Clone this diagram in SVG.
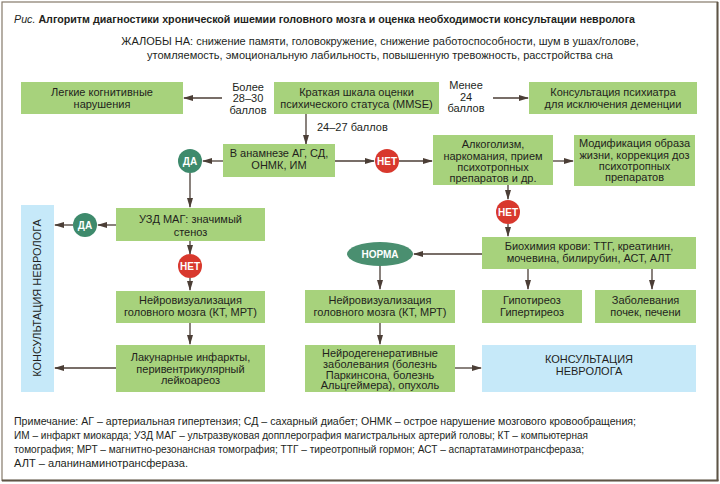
<svg xmlns="http://www.w3.org/2000/svg" width="720" height="484" viewBox="0 0 720 484">
<style>
text{font-family:"Liberation Sans",Arial,sans-serif;fill:#231f1c}
.t{font-size:11px;text-anchor:middle}
.g{fill:#a7d27c}
.b{fill:#c6e9f9}
.w{fill:#fff;font-weight:bold;font-size:10px;text-anchor:middle}
.c line,.c path{stroke:#4b3e36;stroke-width:1.3;fill:none}
.n{font-size:10.6px}
</style>
<defs>
<marker id="a" markerWidth="10" markerHeight="8" refX="9" refY="4" orient="auto" markerUnits="userSpaceOnUse">
<path d="M0,1 L10,4 L0,7 Z" fill="#4b3e36"/>
</marker>
</defs>
<rect x="0" y="0" width="720" height="484" fill="#fff"/>
<rect x="2" y="2" width="715.5" height="478.5" fill="none" stroke="#857a6a" stroke-width="1.2"/>
<line x1="717.5" y1="2" x2="717.5" y2="481" stroke="#5e5446" stroke-width="2"/>
<line x1="2" y1="480.5" x2="718.5" y2="480.5" stroke="#5e5446" stroke-width="2"/>

<text x="14" y="23" font-size="10.7px"><tspan font-style="italic">Рис.</tspan> <tspan font-weight="bold">Алгоритм диагностики хронической ишемии головного мозга и оценка необходимости консультации невролога</tspan></text>
<text class="t" x="380" y="45" font-size="10.6px">ЖАЛОБЫ НА: снижение памяти, головокружение, снижение работоспособности, шум в ушах/голове,</text>
<text class="t" x="380" y="59" font-size="10.6px">утомляемость, эмоциональную лабильность, повышенную тревожность, расстройства сна</text>

<g class="c" id="connectors">
<line x1="222" y1="98" x2="184" y2="98" marker-end="url(#a)"/>
<line x1="493" y1="98" x2="528" y2="98" marker-end="url(#a)"/>
<line x1="306" y1="114" x2="306" y2="144" marker-end="url(#a)"/>
<line x1="223" y1="161" x2="203" y2="161" marker-end="url(#a)"/>
<line x1="190" y1="173" x2="190" y2="207" marker-end="url(#a)"/>
<line x1="116" y1="225" x2="98" y2="225" marker-end="url(#a)"/>
<line x1="73" y1="225" x2="55" y2="225" marker-end="url(#a)"/>
<line x1="190" y1="241" x2="190" y2="254" marker-end="url(#a)"/>
<line x1="190" y1="278" x2="190" y2="290" marker-end="url(#a)"/>
<line x1="190" y1="323" x2="190" y2="344" marker-end="url(#a)"/>
<line x1="116" y1="368" x2="55" y2="368" marker-end="url(#a)"/>
<line x1="335" y1="161" x2="374" y2="161" marker-end="url(#a)"/>
<line x1="399" y1="161" x2="432" y2="161" marker-end="url(#a)"/>
<line x1="553" y1="161" x2="573" y2="161" marker-end="url(#a)"/>
<line x1="508" y1="185" x2="508" y2="199" marker-end="url(#a)"/>
<line x1="508" y1="224" x2="508" y2="236" marker-end="url(#a)"/>
<line x1="482" y1="254" x2="414" y2="254" marker-end="url(#a)"/>
<line x1="380" y1="266" x2="380" y2="289" marker-end="url(#a)"/>
<line x1="528" y1="269" x2="528" y2="289" marker-end="url(#a)"/>
<line x1="652" y1="269" x2="652" y2="289" marker-end="url(#a)"/>
<line x1="380" y1="323" x2="380" y2="344" marker-end="url(#a)"/>
<line x1="455" y1="368" x2="481" y2="368" marker-end="url(#a)"/>
</g>

<g id="lbl-more">
<text class="t" x="248" y="90.5">Более</text>
<text class="t" x="248" y="102">28–30</text>
<text class="t" x="248" y="113.5">баллов</text>
</g>
<g id="lbl-less">
<text class="t" x="466" y="89">Менее</text>
<text class="t" x="466" y="100.5">24</text>
<text class="t" x="466" y="112">баллов</text>
</g>
<g id="lbl-2427"><text x="317" y="131" font-size="11px">24–27 баллов</text></g>

<g id="mild">
<rect class="g" x="21" y="82" width="162" height="32"/>
<text class="t" x="102" y="96">Легкие когнитивные</text>
<text class="t" x="102" y="108">нарушения</text>
</g>
<g id="mmse">
<rect class="g" x="274" y="82" width="165" height="32"/>
<text class="t" x="356.5" y="96">Краткая шкала оценки</text>
<text class="t" x="356.5" y="108">психического статуса (MMSE)</text>
</g>
<g id="psych">
<rect class="g" x="529" y="82" width="168" height="32"/>
<text class="t" x="613" y="96">Консультация психиатра</text>
<text class="t" x="613" y="108">для исключения деменции</text>
</g>
<g id="anamnesis">
<rect class="g" x="223" y="144" width="112" height="33"/>
<text class="t" x="279" y="157">В анамнезе АГ, СД,</text>
<text class="t" x="279" y="169">ОНМК, ИМ</text>
</g>
<g id="yes1"><circle cx="190" cy="161" r="12" fill="#3e8a6c"/><text class="w" x="190" y="164.5">ДА</text></g>
<g id="no1"><circle cx="387" cy="161" r="12" fill="#d8382d"/><text class="w" x="387" y="164.5">НЕТ</text></g>
<g id="alcohol">
<rect class="g" x="433" y="135" width="120" height="50"/>
<text class="t" x="493" y="148">Алкоголизм,</text>
<text class="t" x="493" y="159.5">наркомания, прием</text>
<text class="t" x="493" y="171">психотропных</text>
<text class="t" x="493" y="182">препаратов и др.</text>
</g>
<g id="lifestyle">
<rect class="g" x="574" y="135" width="121" height="51"/>
<text class="t" x="634.5" y="147">Модификация образа</text>
<text class="t" x="634.5" y="158.5">жизни, коррекция доз</text>
<text class="t" x="634.5" y="170">психотропных</text>
<text class="t" x="634.5" y="181">препаратов</text>
</g>
<g id="no2"><circle cx="508" cy="212" r="12" fill="#d8382d"/><text class="w" x="508" y="215.5">НЕТ</text></g>
<g id="uzd">
<rect class="g" x="116" y="208" width="149" height="33"/>
<text class="t" x="190.5" y="223">УЗД МАГ: значимый</text>
<text class="t" x="190.5" y="236">стеноз</text>
</g>
<g id="yes2"><circle cx="85" cy="225" r="12" fill="#3e8a6c"/><text class="w" x="85" y="228.5">ДА</text></g>
<g id="neuro-vert">
<rect class="b" x="21" y="205" width="33" height="187"/>
<text class="t" transform="translate(41,298) rotate(-90)" x="0" y="0">КОНСУЛЬТАЦИЯ НЕВРОЛОГА</text>
</g>
<g id="no3"><circle cx="190" cy="266" r="12" fill="#d8382d"/><text class="w" x="190" y="269.5">НЕТ</text></g>
<g id="biochem">
<rect class="g" x="482" y="237" width="214" height="32"/>
<text class="t" x="589" y="250">Биохимия крови: ТТГ, креатинин,</text>
<text class="t" x="589" y="261.5">мочевина, билирубин, АСТ, АЛТ</text>
</g>
<g id="norm"><ellipse cx="380" cy="254" rx="33" ry="12" fill="#4a8f70"/><text class="w" x="380" y="257.5" font-weight="normal">НОРМА</text></g>
<g id="imaging-left">
<rect class="g" x="116" y="291" width="149" height="32"/>
<text class="t" x="190.5" y="303.5">Нейровизуализация</text>
<text class="t" x="190.5" y="315.5">головного мозга (КТ, МРТ)</text>
</g>
<g id="imaging-right">
<rect class="g" x="305" y="290" width="150" height="33"/>
<text class="t" x="380" y="303.5">Нейровизуализация</text>
<text class="t" x="380" y="315.5">головного мозга (КТ, МРТ)</text>
</g>
<g id="thyroid">
<rect class="g" x="482" y="290" width="100" height="33"/>
<text class="t" x="532" y="304">Гипотиреоз</text>
<text class="t" x="532" y="315.5">Гипертиреоз</text>
</g>
<g id="kidney">
<rect class="g" x="595" y="290" width="101" height="33"/>
<text class="t" x="645.5" y="304">Заболевания</text>
<text class="t" x="645.5" y="315.5">почек, печени</text>
</g>
<g id="lacunar">
<rect class="g" x="116" y="345" width="149" height="47"/>
<text class="t" x="190.5" y="361">Лакунарные инфаркты,</text>
<text class="t" x="190.5" y="372.5">перивентрикулярный</text>
<text class="t" x="190.5" y="384">лейкоареоз</text>
</g>
<g id="neurodeg">
<rect class="g" x="305" y="345" width="150" height="47"/>
<text class="t" x="380" y="357">Нейродегенеративные</text>
<text class="t" x="380" y="368">заболевания (болезнь</text>
<text class="t" x="380" y="378.5">Паркинсона, болезнь</text>
<text class="t" x="380" y="389">Альцгеймера), опухоль</text>
</g>
<g id="neuro-box">
<rect class="b" x="482" y="345" width="214" height="47"/>
<text class="t" x="589" y="363">КОНСУЛЬТАЦИЯ</text>
<text class="t" x="589" y="375">НЕВРОЛОГА</text>
</g>

<g id="note">
<text class="n" x="14" y="425" textLength="622" lengthAdjust="spacingAndGlyphs">Примечание: АГ – артериальная гипертензия; СД – сахарный диабет; ОНМК – острое нарушение мозгового кровообращения;</text>
<text class="n" x="14" y="439" textLength="574" lengthAdjust="spacingAndGlyphs">ИМ – инфаркт миокарда; УЗД МАГ – ультразвуковая допплерография магистральных артерий головы; КТ – компьютерная</text>
<text class="n" x="14" y="453" textLength="570" lengthAdjust="spacingAndGlyphs">томография; МРТ – магнитно-резонансная томография; ТТГ – тиреотропный гормон; АСТ – аспартатаминотрансфераза;</text>
<text class="n" x="14" y="467" textLength="174" lengthAdjust="spacingAndGlyphs">АЛТ – аланинаминотрансфераза.</text>
</g>
</svg>
